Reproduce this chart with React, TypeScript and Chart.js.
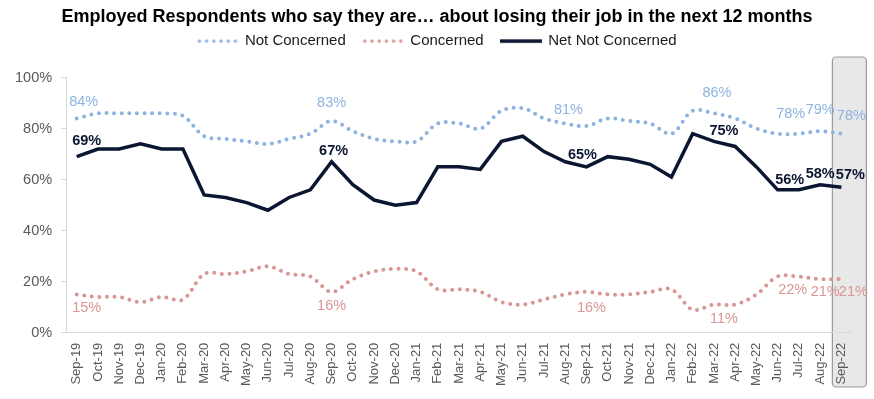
import React, { useEffect, useRef } from "react";
import { Chart, registerables } from "chart.js";

Chart.register(...registerables);

const TITLE = "Employed Respondents who say they are\u2026 about losing their job in the next 12 months";

const MONTHS = [
  "Sep-19", "Oct-19", "Nov-19", "Dec-19", "Jan-20", "Feb-20", "Mar-20", "Apr-20", "May-20", "Jun-20",
  "Jul-20", "Aug-20", "Sep-20", "Oct-20", "Nov-20", "Dec-20", "Jan-21", "Feb-21", "Mar-21", "Apr-21",
  "May-21", "Jun-21", "Jul-21", "Aug-21", "Sep-21", "Oct-21", "Nov-21", "Dec-21", "Jan-22", "Feb-22",
  "Mar-22", "Apr-22", "May-22", "Jun-22", "Jul-22", "Aug-22", "Sep-22",
];

const NOT_CONCERNED = [
  84, 86, 86, 86, 86, 85, 77, 76, 75, 74,
  76, 78, 83, 79, 76, 75, 75, 82, 82, 80,
  87, 88, 84, 82, 81, 84, 83, 82, 78, 87,
  86, 84, 80, 78, 78, 79, 78,
];

const CONCERNED = [
  15, 14, 14, 12, 14, 13, 23, 23, 24, 26,
  23, 22, 16, 21, 24, 25, 24, 17, 17, 16,
  12, 11, 13, 15, 16, 15, 15, 16, 17, 9,
  11, 11, 15, 22, 22, 21, 21,
];

const NET_NOT_CONCERNED = [
  69, 72, 72, 74, 72, 72, 54, 53, 51, 48,
  53, 56, 67, 58, 52, 50, 51, 65, 65, 64,
  75, 77, 71, 67, 65, 69, 68, 66, 61, 78,
  75, 73, 65, 56, 56, 58, 57,
];

const SERIES_NAMES = ["Not Concerned", "Concerned", "Net Not Concerned"];
const Y_MIN = 0;
const Y_MAX = 100;
const Y_STEP = 20;

// indices of points that carry a value label
const LABELLED_POINTS = [0, 12, 24, 30, 33, 35, 36];

// styling: label placement offsets (dx, dy) per series, per labelled point
const LABEL_OFFSETS = [
  [[7, -16], [0, -18], [-18, -16], [3, -20], [13, -20], [0, -21], [10, -18]],
  [[10, 14], [0, 14], [5, 16], [10, 14], [15, 13], [5, 13], [12, 13]],
  [[10, -16], [2, -11], [-4, -12], [10, -10], [12, -10], [0, -11], [9, -12]],
];

const BLUE = "#8db3e2";
const PINK = "#d99694";
const NAVY = "#0b1631";
const GREY_TEXT = "#595959";
const AXIS_GREY = "#d9d9d9";
const FONT = "'Liberation Sans', Arial, Helvetica, sans-serif";
const HEADER_SHIFT = 8;

function makeLegendSample(color: string, dotted: boolean): HTMLCanvasElement {
  const c = document.createElement("canvas");
  c.width = 42;
  c.height = 6;
  const ctx = c.getContext("2d")!;
  ctx.strokeStyle = color;
  ctx.lineCap = dotted ? "round" : "butt";
  ctx.lineWidth = 3.5;
  if (dotted) ctx.setLineDash([0, 7.2]);
  ctx.beginPath();
  ctx.moveTo(dotted ? 3 : 0, 3);
  ctx.lineTo(dotted ? 40 : 42, 3);
  ctx.stroke();
  return c;
}

const highlightPlugin = {
  id: "highlightLast",
  beforeDraw(chart: any) {
    const x = chart.scales.x;
    const px = x.getPixelForValue(MONTHS.length - 1);
    const left = px - 9;
    const right = px + 25;
    const top = 57;
    const bottom = 387;
    const ctx = chart.ctx;
    ctx.save();
    ctx.beginPath();
    (ctx as any).roundRect(left, top, right - left, bottom - top, 4);
    ctx.fillStyle = "#e8e8e8";
    ctx.fill();
    ctx.lineWidth = 1.2;
    ctx.strokeStyle = "#9a9a9a";
    ctx.stroke();
    ctx.restore();
  },
};

const headerPlugin = {
  id: "headerAdjust",
  beforeLayout(chart: any) {
    const lg = chart.legend;
    if (lg && !lg.__patched) {
      const orig = lg.fit;
      lg.fit = function () {
        orig.call(this);
        this.height += 19;
      };
      lg.__patched = true;
    }
  },
  afterLayout(chart: any) {
    [chart.titleBlock, chart.legend].forEach((b: any) => {
      if (!b) return;
      b.left += HEADER_SHIFT;
      b.right += HEADER_SHIFT;
    });
  },
};

const valueLabelPlugin = {
  id: "valueLabels",
  afterDatasetsDraw(chart: any) {
    const ctx = chart.ctx;
    ctx.save();
    ctx.textAlign = "center";
    ctx.textBaseline = "middle";
    chart.data.datasets.forEach((ds: any, di: number) => {
      const meta = chart.getDatasetMeta(di);
      ctx.fillStyle = ds.borderColor;
      ctx.font = (di === 2 ? "bold " : "") + "14.5px " + FONT;
      LABELLED_POINTS.forEach((idx, k) => {
        const pt = meta.data[idx];
        if (!pt) return;
        const [dx, dy] = LABEL_OFFSETS[di][k];
        ctx.fillText(ds.data[idx] + "%", pt.x + dx, pt.y + dy);
      });
    });
    ctx.restore();
  },
};

export default function App() {
  const ref = useRef<HTMLCanvasElement | null>(null);

  useEffect(() => {
    document.body.style.margin = "0";
    const canvas = ref.current;
    if (!canvas) return;
    const samples = [
      makeLegendSample(BLUE, true),
      makeLegendSample(PINK, true),
      makeLegendSample(NAVY, false),
    ];
    const chart = new Chart(canvas, {
      type: "line",
      data: {
        labels: MONTHS,
        datasets: [
          {
            label: SERIES_NAMES[0],
            data: NOT_CONCERNED,
            borderColor: BLUE,
            backgroundColor: BLUE,
            borderWidth: 4,
            borderDash: [0, 7.6],
            borderCapStyle: "round",
            tension: 0.35,
            pointRadius: 0,
          },
          {
            label: SERIES_NAMES[1],
            data: CONCERNED,
            borderColor: PINK,
            backgroundColor: PINK,
            borderWidth: 4,
            borderDash: [0, 7.6],
            borderCapStyle: "round",
            tension: 0.35,
            pointRadius: 0,
          },
          {
            label: SERIES_NAMES[2],
            data: NET_NOT_CONCERNED,
            borderColor: NAVY,
            backgroundColor: NAVY,
            borderWidth: 3.5,
            tension: 0,
            pointRadius: 0,
          },
        ],
      } as any,
      options: {
        animation: false,
        responsive: false,
        events: [],
        layout: { padding: { top: 6, left: 6, right: 22, bottom: 3 } },
        plugins: {
          title: {
            display: true,
            text: TITLE,
            color: "#000000",
            font: { family: FONT, size: 18, weight: "bold" },
            padding: { top: 0, bottom: -11 },
          },
          legend: {
            display: true,
            position: "top",
            labels: {
              usePointStyle: true,
              pointStyleWidth: 40,
              padding: 17,
              color: "#1a1a1a",
              font: { family: FONT, size: 15 },
              generateLabels: (ch: any) =>
                ch.data.datasets.map((ds: any, i: number) => ({
                  text: ds.label,
                  fillStyle: ds.borderColor,
                  strokeStyle: ds.borderColor,
                  lineWidth: 0,
                  pointStyle: samples[i],
                  hidden: false,
                  datasetIndex: i,
                  fontColor: "#1a1a1a",
                })),
            },
          },
          tooltip: { enabled: false },
        },
        scales: {
          x: {
            type: "category",
            offset: true,
            grid: { display: true, drawOnChartArea: false, drawTicks: false, color: AXIS_GREY },
            border: { display: true, color: AXIS_GREY, width: 1 },
            ticks: {
              autoSkip: false,
              minRotation: 90,
              maxRotation: 90,
              padding: 10,
              color: GREY_TEXT,
              font: { family: FONT, size: 13 },
            },
          },
          y: {
            min: Y_MIN,
            max: Y_MAX,
            grid: { drawOnChartArea: false, drawTicks: true, tickLength: 5, color: AXIS_GREY },
            border: { display: true, color: AXIS_GREY, width: 1 },
            ticks: {
              stepSize: Y_STEP,
              padding: 9,
              color: GREY_TEXT,
              font: { family: FONT, size: 14.5 },
              callback: (v: any) => v + "%",
            },
          },
        },
      } as any,
      plugins: [highlightPlugin, headerPlugin, valueLabelPlugin],
    });
    return () => chart.destroy();
  }, []);

  return (
    <div style={{ width: 874, height: 399, background: "#ffffff" }}>
      <canvas ref={ref} width={874} height={399} style={{ display: "block" }} />
    </div>
  );
}
